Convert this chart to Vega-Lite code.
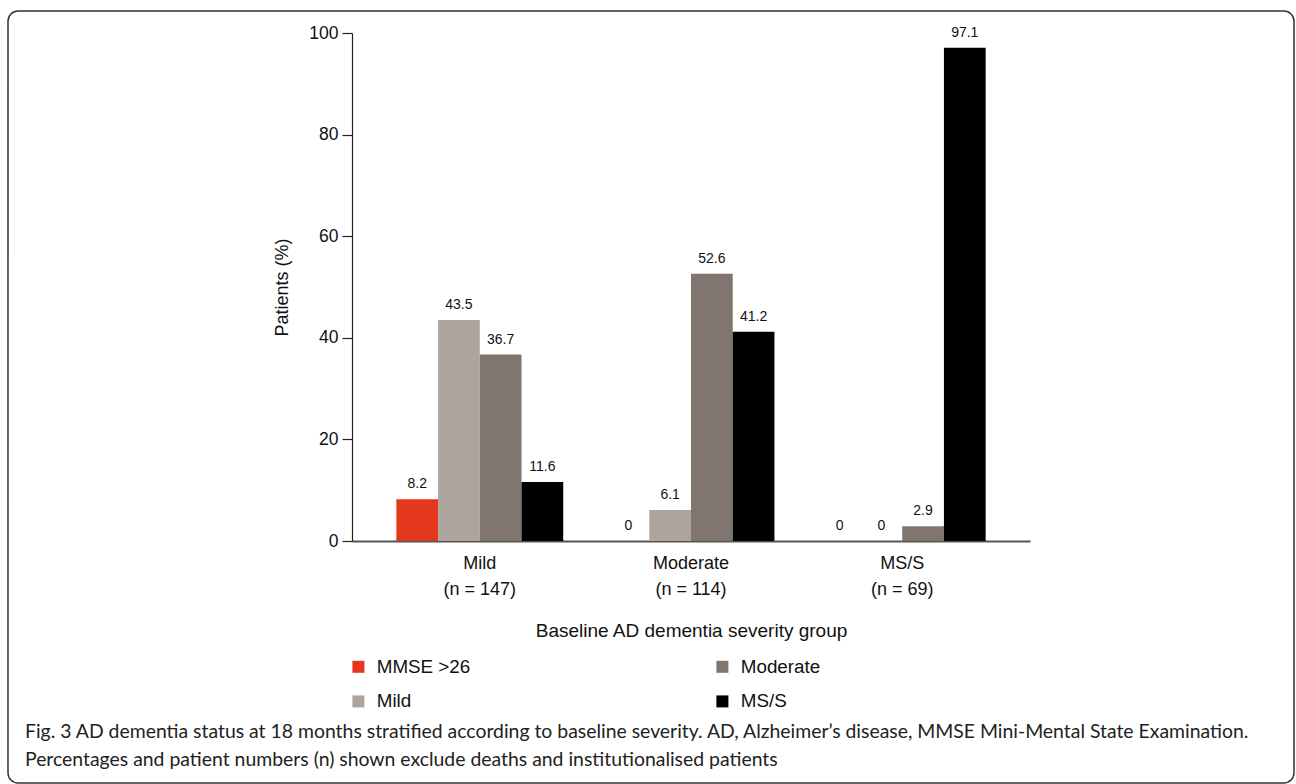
{
  "$schema": "https://vega.github.io/schema/vega-lite/v6.json",
  "width": 1286,
  "height": 772,
  "autosize": {"type": "none"},
  "padding": {"left": 8, "top": 11, "right": 2, "bottom": 1},
  "background": "white",
  "config": {
    "view": {"stroke": "#333", "strokeWidth": 1.5, "cornerRadius": 10},
    "font": "Liberation Sans",
    "axis": {"labelFont": "Liberation Sans", "titleFont": "Liberation Sans", "labelColor": "#111", "titleColor": "#111", "titleFontWeight": "normal"},
    "legend": {"labelFont": "Liberation Sans"}
  },
  "title": {
    "text": [
      "Fig. 3 AD dementia status at 18 months stratified according to baseline severity. AD, Alzheimer’s disease, MMSE Mini-Mental State Examination.",
      "Percentages and patient numbers (n) shown exclude deaths and institutionalised patients"
    ],
    "orient": "bottom",
    "anchor": "start",
    "frame": "group",
    "offset": -60,
    "dx": 17,
    "font": "Lato",
    "fontSize": 19.4,
    "fontWeight": "normal",
    "lineHeight": 28,
    "color": "#222"
  },
  "data": {
    "values": [
      {"baseline": "Mild", "status": "MMSE >26", "value": 8.2},
      {"baseline": "Mild", "status": "Mild", "value": 43.5},
      {"baseline": "Mild", "status": "Moderate", "value": 36.7},
      {"baseline": "Mild", "status": "MS/S", "value": 11.6},
      {"baseline": "Moderate", "status": "MMSE >26", "value": 0},
      {"baseline": "Moderate", "status": "Mild", "value": 6.1},
      {"baseline": "Moderate", "status": "Moderate", "value": 52.6},
      {"baseline": "Moderate", "status": "MS/S", "value": 41.2},
      {"baseline": "MS/S", "status": "MMSE >26", "value": 0},
      {"baseline": "MS/S", "status": "Mild", "value": 0},
      {"baseline": "MS/S", "status": "Moderate", "value": 2.9},
      {"baseline": "MS/S", "status": "MS/S", "value": 97.1}
    ]
  },
  "encoding": {
    "x": {
      "field": "baseline",
      "type": "nominal",
      "sort": ["Mild", "Moderate", "MS/S"],
      "scale": {"domain": ["Mild", "Moderate", "MS/S"], "range": [344, 1022], "paddingInner": 0.21, "paddingOuter": 0.21},
      "axis": {
        "orient": "bottom",
        "offset": -242,
        "title": "Baseline AD dementia severity group",
        "titleFontSize": 19,
        "titlePadding": 23,
        "labelFontSize": 18,
        "labelAngle": 0,
        "labelPadding": 13,
        "labelLineHeight": 26,
        "ticks": false,
        "domainColor": "#555",
        "domainWidth": 2,
        "labelExpr": "datum.value == 'Mild' ? ['Mild', '(n = 147)'] : datum.value == 'Moderate' ? ['Moderate', '(n = 114)'] : ['MS/S', '(n = 69)']"
      }
    },
    "xOffset": {
      "field": "status",
      "type": "nominal",
      "scale": {"domain": ["MMSE >26", "Mild", "Moderate", "MS/S"], "paddingInner": 0, "paddingOuter": 0}
    },
    "y": {
      "field": "value",
      "type": "quantitative",
      "scale": {"domain": [0, 100], "range": [530, 22], "nice": false},
      "axis": {
        "orient": "left",
        "offset": -344,
        "values": [0, 20, 40, 60, 80, 100],
        "grid": false,
        "title": "Patients (%)",
        "titleFontSize": 18,
        "titlePadding": 17,
        "labelFontSize": 17.5,
        "labelPadding": 4,
        "tickSize": 10,
        "tickColor": "#222",
        "tickWidth": 1.2,
        "domainColor": "#222",
        "domainWidth": 1.2
      }
    }
  },
  "layer": [
    {
      "mark": {"type": "bar"},
      "encoding": {
        "color": {
          "field": "status",
          "type": "nominal",
          "scale": {
            "domain": ["MMSE >26", "Moderate", "Mild", "MS/S"],
            "range": ["#E4381E", "#80756F", "#ADA49E", "#000000"]
          },
          "legend": {
            "title": null,
            "orient": "none",
            "legendX": 341,
            "legendY": 646,
            "columns": 2,
            "direction": "horizontal",
            "symbolType": "square",
            "symbolSize": 144,
            "symbolStrokeWidth": 0,
            "labelFontSize": 18.8,
            "labelColor": "#111",
            "labelOffset": 9,
            "columnPadding": 242,
            "rowPadding": 15
          }
        }
      }
    },
    {
      "mark": {"type": "text", "baseline": "bottom", "dy": -8, "fontSize": 14, "color": "#111", "font": "Liberation Sans"},
      "encoding": {
        "text": {"field": "value", "type": "nominal"}
      }
    }
  ]
}
